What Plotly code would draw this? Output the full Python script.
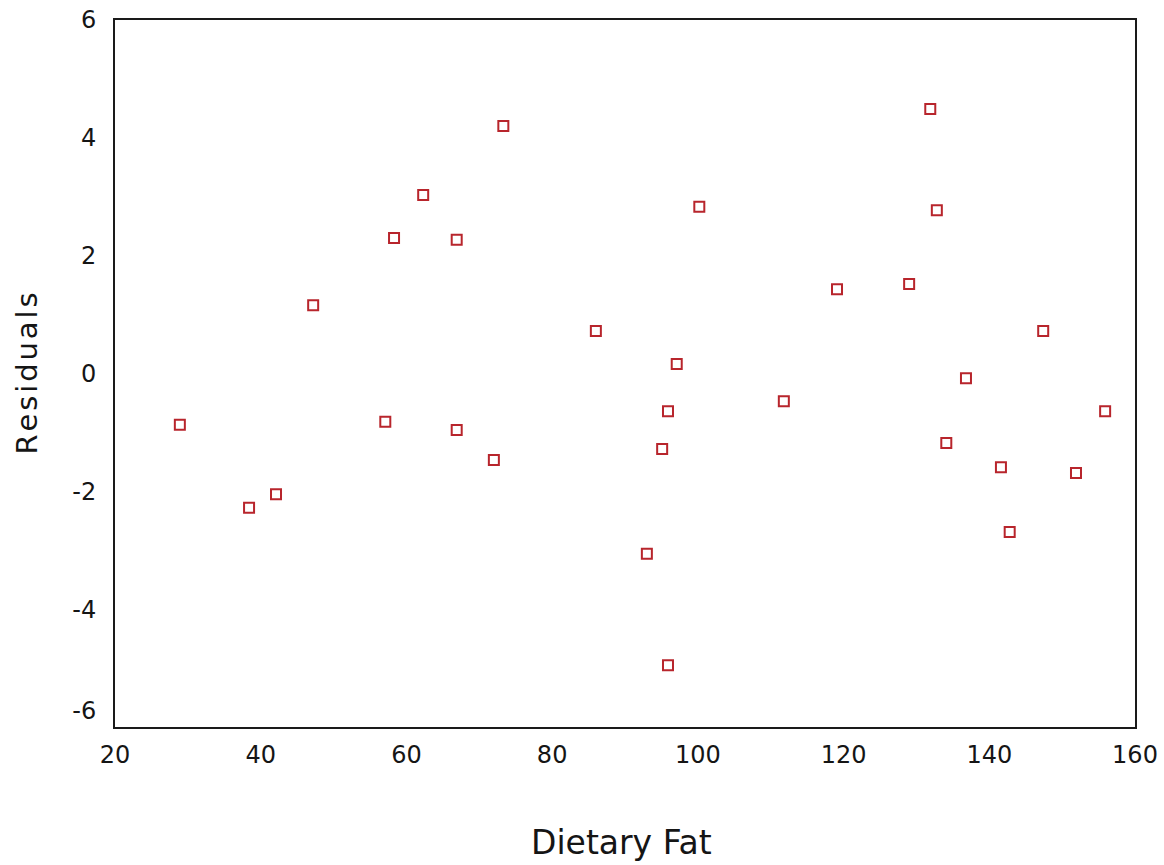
import plotly.graph_objects as go

dietary_fat = [28.9, 38.4, 42.1, 47.2, 57.1, 58.3, 62.3, 66.9, 66.9, 72.0,
               73.3, 86.0, 93.0, 95.1, 95.9, 95.9, 97.1, 100.2, 111.8, 119.1,
               129.0, 131.9, 132.8, 134.1, 136.8, 141.6, 142.8, 147.4, 151.9, 155.9]
residuals = [-0.87, -2.28, -2.05, 1.16, -0.82, 2.30, 3.03, 2.27, -0.96, -1.47,
             4.20, 0.72, -3.06, -1.28, -0.64, -4.95, 0.16, 2.83, -0.47, 1.43,
             1.52, 4.49, 2.77, -1.18, -0.08, -1.59, -2.69, 0.72, -1.69, -0.64]

x_ticks = [20, 40, 60, 80, 100, 120, 140, 160]
x_tick_text = ["20", "40", "60", "80", "100", "120", "140", "160"]
y_ticks = [-5.72, -4, -2, 0, 2, 4, 6]
y_tick_text = ["-6", "-4", "-2", "0", "2", "4", "6"]

x_title = "Dietary Fat"
y_title = "\u200a".join("Residuals")

font_family = "DejaVu Sans, Verdana, sans-serif"
ink = "#151515"

fig = go.Figure()
fig.add_trace(go.Scatter(
    x=dietary_fat, y=residuals, mode="markers",
    marker=dict(symbol="square-open", size=10, color="#b8252c",
                line=dict(width=2, color="#b8252c")),
    showlegend=False, cliponaxis=False,
))

fig.update_layout(
    width=1164, height=865,
    margin=dict(l=115, r=29, t=20, b=138, autoexpand=False),
    paper_bgcolor="white", plot_bgcolor="white",
    font=dict(family=font_family, color=ink, size=24),
    xaxis=dict(range=[20, 160], tickvals=x_ticks, ticktext=x_tick_text,
               showgrid=False, zeroline=False, automargin=False,
               showline=True, linecolor="#1a1a1a", linewidth=2, mirror=True,
               ticks="", tickfont=dict(size=24, color=ink),
               ticklabelstandoff=5, ticklabeloverflow="allow"),
    yaxis=dict(range=[-6, 6], tickvals=y_ticks, ticktext=y_tick_text,
               showgrid=False, zeroline=False, automargin=False,
               showline=True, linecolor="#1a1a1a", linewidth=2, mirror=True,
               ticks="", tickfont=dict(size=24, color=ink),
               ticklabelstandoff=12, ticklabeloverflow="allow"),
    annotations=[
        dict(text=x_title, xref="paper", yref="paper", x=0.497, y=-115 / 707,
             xanchor="center", yanchor="middle", showarrow=False,
             font=dict(size=33, color=ink, family=font_family)),
        dict(text=y_title, xref="paper", yref="paper", x=-89 / 1020, y=0.5,
             xanchor="center", yanchor="middle", showarrow=False, textangle=-90,
             font=dict(size=29, color=ink, family=font_family)),
    ],
)

fig.write_html(
    "out.html",
    config={"displayModeBar": False},
    post_script="document.body.style.margin='0';document.body.style.overflow='hidden';",
)
